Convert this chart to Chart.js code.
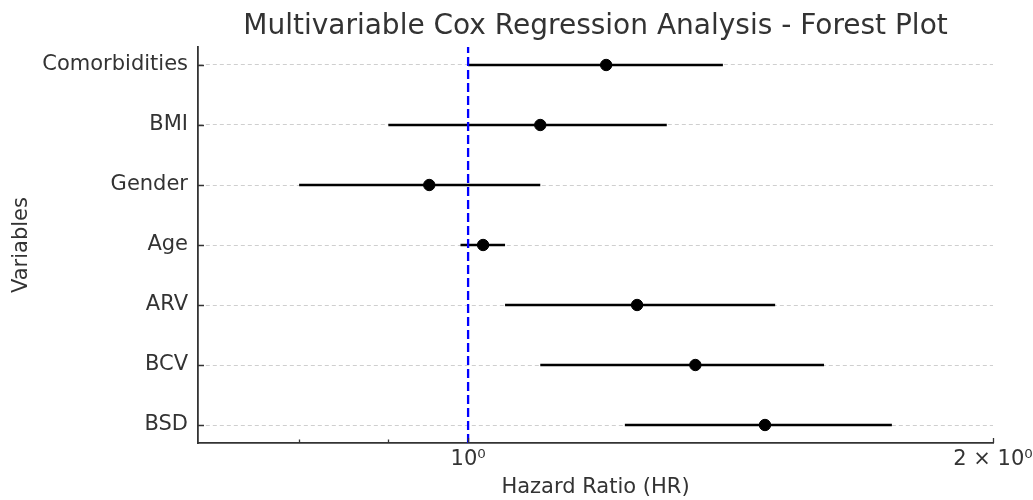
<!DOCTYPE html>
<html>
<head>
<meta charset="utf-8">
<script src="https://cdn.jsdelivr.net/npm/chart.js@4"></script>
<style>
  html, body { margin: 0; padding: 0; background: #fff; }
  #wrap { width: 1033px; height: 500px; }
</style>
</head>
<body>
<div id="wrap"><canvas id="forest"></canvas></div>
<script>
// forest plot (top -> bottom)
const variaveis = ['Comorbidities', 'BMI', 'Gender', 'Age', 'ARV', 'BCV', 'BSD'];
const hr      = [1.20, 1.10, 0.95, 1.02, 1.25, 1.35, 1.48];
const ciLower = [1.00, 0.90, 0.80, 0.99, 1.05, 1.10, 1.23];
const ciUpper = [1.40, 1.30, 1.10, 1.05, 1.50, 1.60, 1.75];
const xMajorTicks = [1, 2];
const xMinorTicks = [0.8, 0.9];
const xTickLabels = ['10\u2070', '2 \u00d7 10\u2070'];

const TEXT = '#333333';
const FONT = 'DejaVu Sans';
const n = variaveis.length;
const yPos = (i) => n - 1 - i;

// linhas dos intervalos de confiança
const ciSets = variaveis.map((v, i) => ({
  type: 'line',
  label: v,
  data: [{ x: ciLower[i], y: yPos(i) }, { x: ciUpper[i], y: yPos(i) }],
  borderColor: '#000',
  borderWidth: 2.5,
  pointRadius: 0,
  order: 2,
}));

const refLine = {
  type: 'line',
  label: 'ref',
  data: [{ x: 1, y: -0.3 }, { x: 1, y: n - 1 + 0.3 }],
  borderColor: '#0000ff',
  borderWidth: 2.3,
  borderDash: [9, 4],
  pointRadius: 0,
  order: 1,
};

const pontos = {
  type: 'scatter',
  label: 'HR',
  data: hr.map((v, i) => ({ x: v, y: yPos(i) })),
  backgroundColor: '#000',
  borderColor: '#000',
  pointRadius: 5.7,
  pointHoverRadius: 5.7,
  order: 0,
};

// ticks para dentro, estilo matplotlib
const innerTicks = {
  id: 'innerTicks',
  afterDraw(chart) {
    const { ctx, chartArea, scales } = chart;
    ctx.save();
    ctx.strokeStyle = TEXT;
    ctx.lineWidth = 1.3;
    ctx.beginPath();
    variaveis.forEach((v, i) => {
      const y = Math.round(scales.y.getPixelForValue(yPos(i))) + 0.5;
      ctx.moveTo(chartArea.left, y);
      ctx.lineTo(chartArea.left + 6, y);
    });
    xMajorTicks.forEach((t) => {
      const x = Math.round(scales.x.getPixelForValue(t)) + 0.5;
      ctx.moveTo(x, chartArea.bottom);
      ctx.lineTo(x, chartArea.bottom - 5);
    });
    xMinorTicks.forEach((t) => {
      const x = Math.round(scales.x.getPixelForValue(t)) + 0.5;
      ctx.moveTo(x, chartArea.bottom);
      ctx.lineTo(x, chartArea.bottom - 3.5);
    });
    ctx.stroke();
    ctx.restore();
  },
};

new Chart(document.getElementById('forest').getContext('2d'), {
  data: { datasets: [pontos, refLine, ...ciSets] },
  options: {
    responsive: true,
    maintainAspectRatio: false,
    animation: false,
    layout: { padding: { left: 0, right: 40, top: 0, bottom: 0 } },
    plugins: {
      legend: { display: false },
      tooltip: { enabled: false },
      title: {
        display: true,
        text: 'Multivariable Cox Regression Analysis - Forest Plot',
        fullSize: false,
        color: TEXT,
        font: { family: FONT, size: 28, weight: 'normal' },
        padding: { top: 10, bottom: 3.4 },
      },
    },
    scales: {
      x: {
        type: 'logarithmic',
        min: 0.7,
        max: 2,
        afterBuildTicks: (scale) => { scale.ticks = xMajorTicks.map((v) => ({ value: v })); },
        afterFit: (scale) => {
          scale.height = 57;
          scale.paddingLeft = 0;
          scale.paddingRight = 0;
        },
        ticks: {
          color: TEXT,
          padding: 4,
          maxRotation: 0,
          autoSkip: false,
          font: { family: FONT, size: 21 },
          callback: (v) => xTickLabels[xMajorTicks.indexOf(v)] || '',
        },
        grid: { drawOnChartArea: false, drawTicks: false },
        border: { display: true, color: TEXT, width: 1.8 },
        title: {
          display: true,
          text: 'Hazard Ratio (HR)',
          color: TEXT,
          font: { family: FONT, size: 21 },
          padding: { top: 0, bottom: 0 },
        },
      },
      y: {
        type: 'linear',
        min: -0.3,
        max: n - 1 + 0.3,
        afterBuildTicks: (scale) => { scale.ticks = variaveis.map((v, i) => ({ value: i })); },
        afterFit: (scale) => {
          scale.width = 198;
          scale.paddingTop = 0;
          scale.paddingBottom = 0;
        },
        ticks: {
          color: TEXT,
          padding: 10,
          autoSkip: false,
          font: { family: FONT, size: 21 },
          callback: (v) => variaveis[n - 1 - v],
        },
        grid: { color: '#cfcfcf', lineWidth: 1, drawTicks: false },
        border: { display: true, color: TEXT, width: 1.8, dash: [4, 3] },
        title: {
          display: true,
          text: 'Variables',
          color: TEXT,
          font: { family: FONT, size: 21 },
          padding: { top: 9, bottom: 0 },
        },
      },
    },
  },
  plugins: [innerTicks],
});
</script>
</body>
</html>
